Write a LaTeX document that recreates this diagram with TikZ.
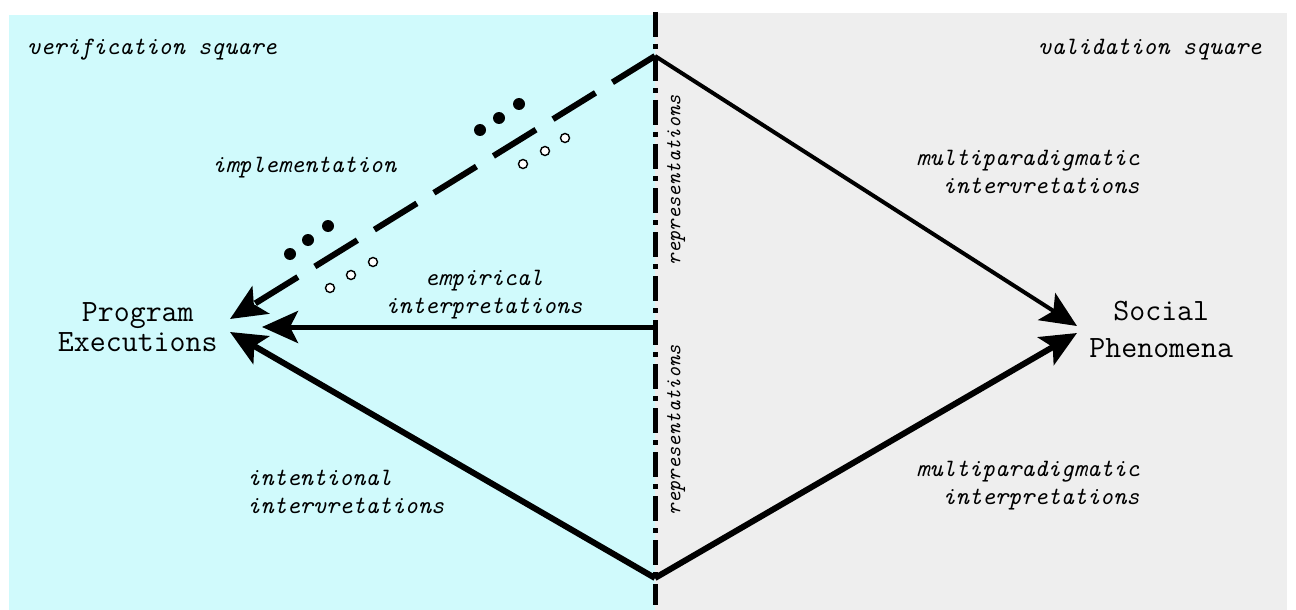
\documentclass[tikz,border=0pt]{standalone}
\usepackage{fontspec}
\usetikzlibrary{arrows.meta}
\definecolor{verifcyan}{RGB}{208,250,252}
\definecolor{validgray}{RGB}{238,238,238}
\begin{document}
\begin{tikzpicture}[x=.5pt,y=-.5pt,
		lab/.style={font=\ttfamily\itshape\fontsize{12.5}{14}\selectfont,inner sep=0pt},
		reps/.style={font=\ttfamily\itshape\fontsize{10.8}{11}\selectfont,inner sep=0pt,rotate=90},
		ends/.style={font=\ttfamily\fontsize{15.5}{15}\selectfont,align=center,inner xsep=6pt,inner ysep=2pt},
		arr/.style={-{Stealth[length=18pt,width=16pt,inset=4pt]},line width=2.5pt},
		dot/.style={circle,fill=black,inner sep=0pt,minimum size=6pt},
		hole/.style={circle,draw=black,fill=white,line width=.7pt,inner sep=0pt,minimum size=4.5pt}]
	\useasboundingbox (0,0) rectangle (1296,610);
	% the two squares
	\fill[verifcyan] (9,15) rectangle (655,610);
	\fill[validgray] (655,13) rectangle (1287,610);
	\draw[line width=2.5pt,dash pattern=on 12.5pt off 3.5pt on 2.5pt off 3.5pt] (655,12) -- (655,605);
	\coordinate (top) at (655,56);
	\coordinate (mid) at (655,327);
	\coordinate (bot) at (655,578);
	\node[ends,anchor=east] (prog) at (230,327)
		{Program\\Executions};
	\node[ends,anchor=west,font=\ttfamily\fontsize{15.5}{18.5}\selectfont] (soc) at (1077,329)
		{Social\\Phenomena};
	% arrows
	\draw[arr,line width=3pt,dash pattern=on 25pt off 10pt] (top) -- ([yshift=4pt]prog.east);
	\draw[arr,shorten >=16pt] (mid) -- (prog);
	\draw[arr,line width=3pt] (bot) -- ([yshift=-2.5pt]prog.east);
	\draw[arr,line width=2pt] (top) -- ([yshift=1.5pt]soc.west);
	\draw[arr,line width=3pt] (bot) -- ([yshift=-2pt]soc.west);
	\foreach \x/\y in {480/130,499/118,519/104,290/254,308/240,328/226}
		\node[dot] (full\x) at (\x,\y) {};
	\foreach \x/\y in {523/164,545/151,565/138,330/288,351/275,373/262}
		\node[hole] (open\x) at (\x,\y) {};
	% labels
	\node[lab,anchor=base west] (verif) at (27,55)
		{verification square};
	\node[lab,anchor=base east] (valid) at (1262,55)
		{validation square};
	\node[lab,anchor=base west] (impl) at (212,172)
		{implementation};
	\node[lab,align=center] (emp) at (484,295)
		{empirical\\interpretations};
	\node[lab,align=left,anchor=west] (intent) at (247,492)
		{intentional\\intervretations};
	\node[lab,align=right,anchor=east] (multup) at (1140,172)
		{multiparadigmatic\\intervretations};
	\node[lab,align=right,anchor=east] (multlow) at (1140,486)
		{multiparadigmatic\\interpretations};
	\node[reps] (repup) at (676,180)
		{representations};
	\node[reps] (replow) at (676,430)
		{representations};
\end{tikzpicture}
\end{document}
